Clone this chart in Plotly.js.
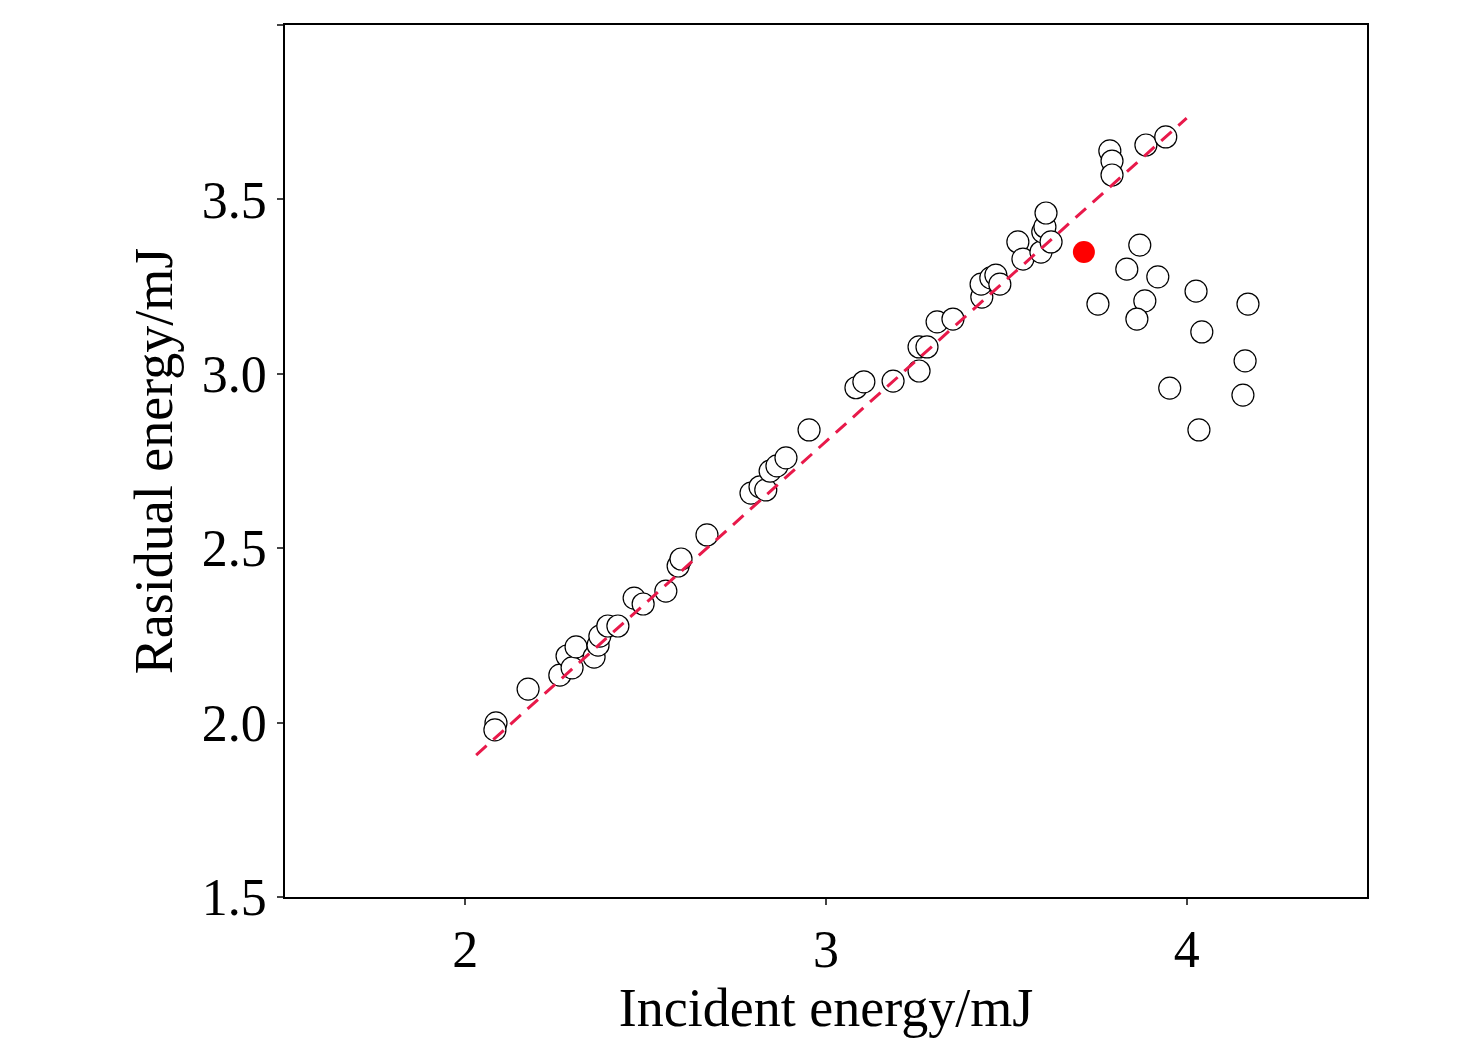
<!DOCTYPE html>
<html><head><meta charset="utf-8">
<script src="https://cdn.plot.ly/plotly-3.0.1.min.js"></script>
<style>body{margin:0;background:#fff}</style></head>
<body><div id="c" style="width:1476px;height:1047px"></div>
<script>
const lineX=[2.085,2.082,2.174,2.262,2.282,2.296,2.307,2.357,2.368,2.373,2.395,2.423,2.468,2.493,2.556,2.590,2.598,2.670,2.792,2.817,2.833,2.845,2.864,2.889,2.953,3.083,3.105,3.186,3.258,3.258,3.280,3.308,3.352,3.432,3.430,3.457,3.471,3.482,3.532,3.546,3.596,3.601,3.607,3.610,3.624,3.787,3.793,3.793,3.887,3.942];
const lineY=[1.999,1.979,2.096,2.136,2.191,2.157,2.217,2.188,2.222,2.248,2.277,2.277,2.357,2.340,2.377,2.449,2.469,2.538,2.658,2.676,2.667,2.721,2.736,2.759,2.839,2.960,2.977,2.979,3.008,3.077,3.077,3.149,3.157,3.220,3.257,3.275,3.283,3.257,3.378,3.329,3.349,3.407,3.421,3.461,3.378,3.639,3.610,3.570,3.656,3.679];
const outX=[3.754,3.834,3.870,3.920,3.884,3.862,4.026,4.042,4.170,4.162,3.953,4.156,4.034];
const outY=[3.200,3.300,3.369,3.278,3.209,3.157,3.237,3.120,3.200,3.037,2.959,2.939,2.839];
const redX=[3.715], redY=[3.349];
const fitX=[2.03,4.0], fitY=[1.907,3.733];
const data=[
 {x:lineX.concat(outX),y:lineY.concat(outY),mode:'markers',type:'scatter',marker:{symbol:'circle',size:22,color:'#fff',line:{width:1.2,color:'#000'}}},
 {x:fitX,y:fitY,mode:'lines',type:'scatter',line:{color:'#e8194a',width:3,dash:'14px,9px'}},
 {x:redX,y:redY,mode:'markers',type:'scatter',marker:{symbol:'circle',size:22,color:'#ff0000',line:{width:0}}}
];
const f={family:'Liberation Serif, Times New Roman, serif',size:52,color:'#000'};
const layout={width:1476,height:1047,showlegend:false,paper_bgcolor:'#fff',plot_bgcolor:'#fff',
 margin:{l:285,r:109,t:25,b:150},font:f,
 xaxis:{range:[1.5,4.5],tickvals:[2,3,4],ticks:'outside',ticklen:6,tickwidth:1.5,showline:true,mirror:true,linewidth:1.5,linecolor:'#000',showgrid:false,zeroline:false,tickfont:f,
   title:{text:'Incident energy/mJ',font:{family:f.family,size:54},standoff:10}},
 yaxis:{range:[1.5,4.0],tickvals:[1.5,2,2.5,3,3.5,4],ticktext:['1.5','2.0','2.5','3.0','3.5','4.0'],ticks:'outside',ticklen:6,tickwidth:1.5,showline:true,mirror:true,linewidth:1.5,linecolor:'#000',showgrid:false,zeroline:false,tickfont:f,
   title:{text:'Rasidual energy/mJ',font:{family:f.family,size:54},standoff:12}}
};
Plotly.newPlot('c',data,layout,{displayModeBar:false});
</script></body></html>
